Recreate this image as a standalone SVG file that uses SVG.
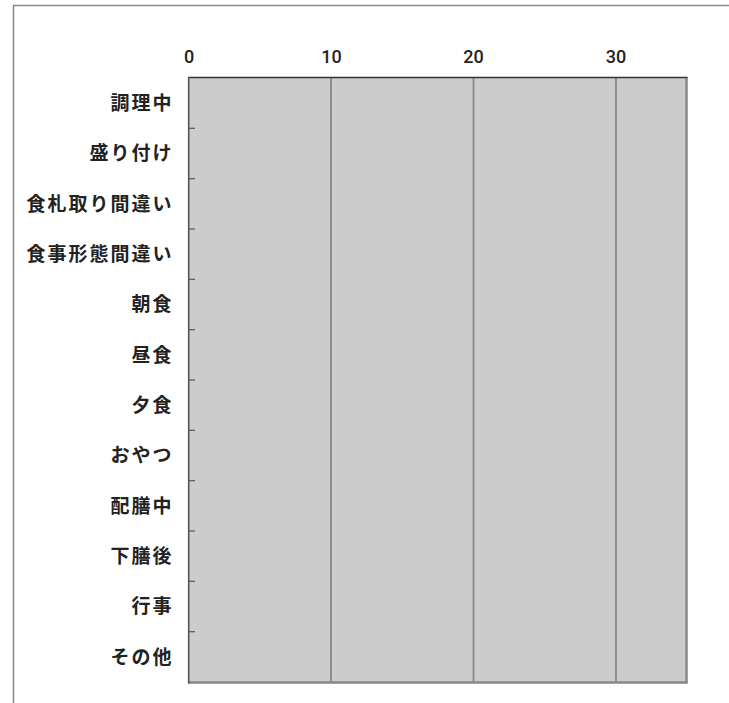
<svg xmlns="http://www.w3.org/2000/svg" width="729" height="703" viewBox="0 0 729 703">
<style>
.frame{fill:none;stroke:#888;stroke-width:1.5}
.grid{stroke:#888;stroke-width:1.8}
.tick{stroke:#555;stroke-width:1.2}
.cat{font-family:"Noto Sans CJK JP","Noto Sans CJK SC",sans-serif;font-size:19px;font-weight:700;fill:#222;text-anchor:end;letter-spacing:2px}
.num{font-family:Roboto,"Liberation Sans",sans-serif;font-size:18px;font-weight:500;fill:#222;text-anchor:middle}
</style>
<rect width="729" height="703" fill="#fff"/>
<g id="frame">
<polyline class="frame" points="13.5,703 13.5,5.5 729,5.5"/>
</g>
<g id="plot">
<rect x="189" y="78" width="497.5" height="604.5" fill="#cccccc"/>
</g>
<g id="connectors">
<line class="grid" x1="331" y1="78" x2="331" y2="682.5"/>
<line class="grid" x1="473.5" y1="78" x2="473.5" y2="682.5"/>
<line class="grid" x1="616" y1="78" x2="616" y2="682.5"/>
<line x1="686.5" y1="77" x2="686.5" y2="683.5" stroke="#888" stroke-width="2.5"/>
<line x1="188" y1="682.5" x2="687.5" y2="682.5" stroke="#888" stroke-width="2.5"/>
<line x1="188" y1="77.5" x2="687.5" y2="77.5" stroke="#333" stroke-width="1.5"/>
<line x1="188.7" y1="77" x2="188.7" y2="683.5" stroke="#555" stroke-width="1.6"/>
<g class="tick">
<line x1="189" y1="128.3" x2="195" y2="128.3"/>
<line x1="189" y1="178.7" x2="195" y2="178.7"/>
<line x1="189" y1="229" x2="195" y2="229"/>
<line x1="189" y1="279.3" x2="195" y2="279.3"/>
<line x1="189" y1="329.7" x2="195" y2="329.7"/>
<line x1="189" y1="380" x2="195" y2="380"/>
<line x1="189" y1="430.3" x2="195" y2="430.3"/>
<line x1="189" y1="480.7" x2="195" y2="480.7"/>
<line x1="189" y1="531" x2="195" y2="531"/>
<line x1="189" y1="581.3" x2="195" y2="581.3"/>
<line x1="189" y1="631.7" x2="195" y2="631.7"/>
</g>
</g>
<g id="axis-x">
<text class="num" x="189" y="62.5">0</text>
<text class="num" x="331.5" y="62.5">10</text>
<text class="num" x="473.5" y="62.5">20</text>
<text class="num" x="616" y="62.5">30</text>
</g>
<g id="axis-y">
<text class="cat" x="173.5" y="109.5">調理中</text>
<text class="cat" x="173.5" y="160">盛り付け</text>
<text class="cat" x="173.5" y="210.5">食札取り間違い</text>
<text class="cat" x="173.5" y="260.5">食事形態間違い</text>
<text class="cat" x="173.5" y="311">朝食</text>
<text class="cat" x="173.5" y="361.5">昼食</text>
<text class="cat" x="173.5" y="411.5">夕食</text>
<text class="cat" x="173.5" y="462">おやつ</text>
<text class="cat" x="173.5" y="512.5">配膳中</text>
<text class="cat" x="173.5" y="562.5">下膳後</text>
<text class="cat" x="173.5" y="613">行事</text>
<text class="cat" x="173.5" y="663.5">その他</text>
</g>
</svg>
